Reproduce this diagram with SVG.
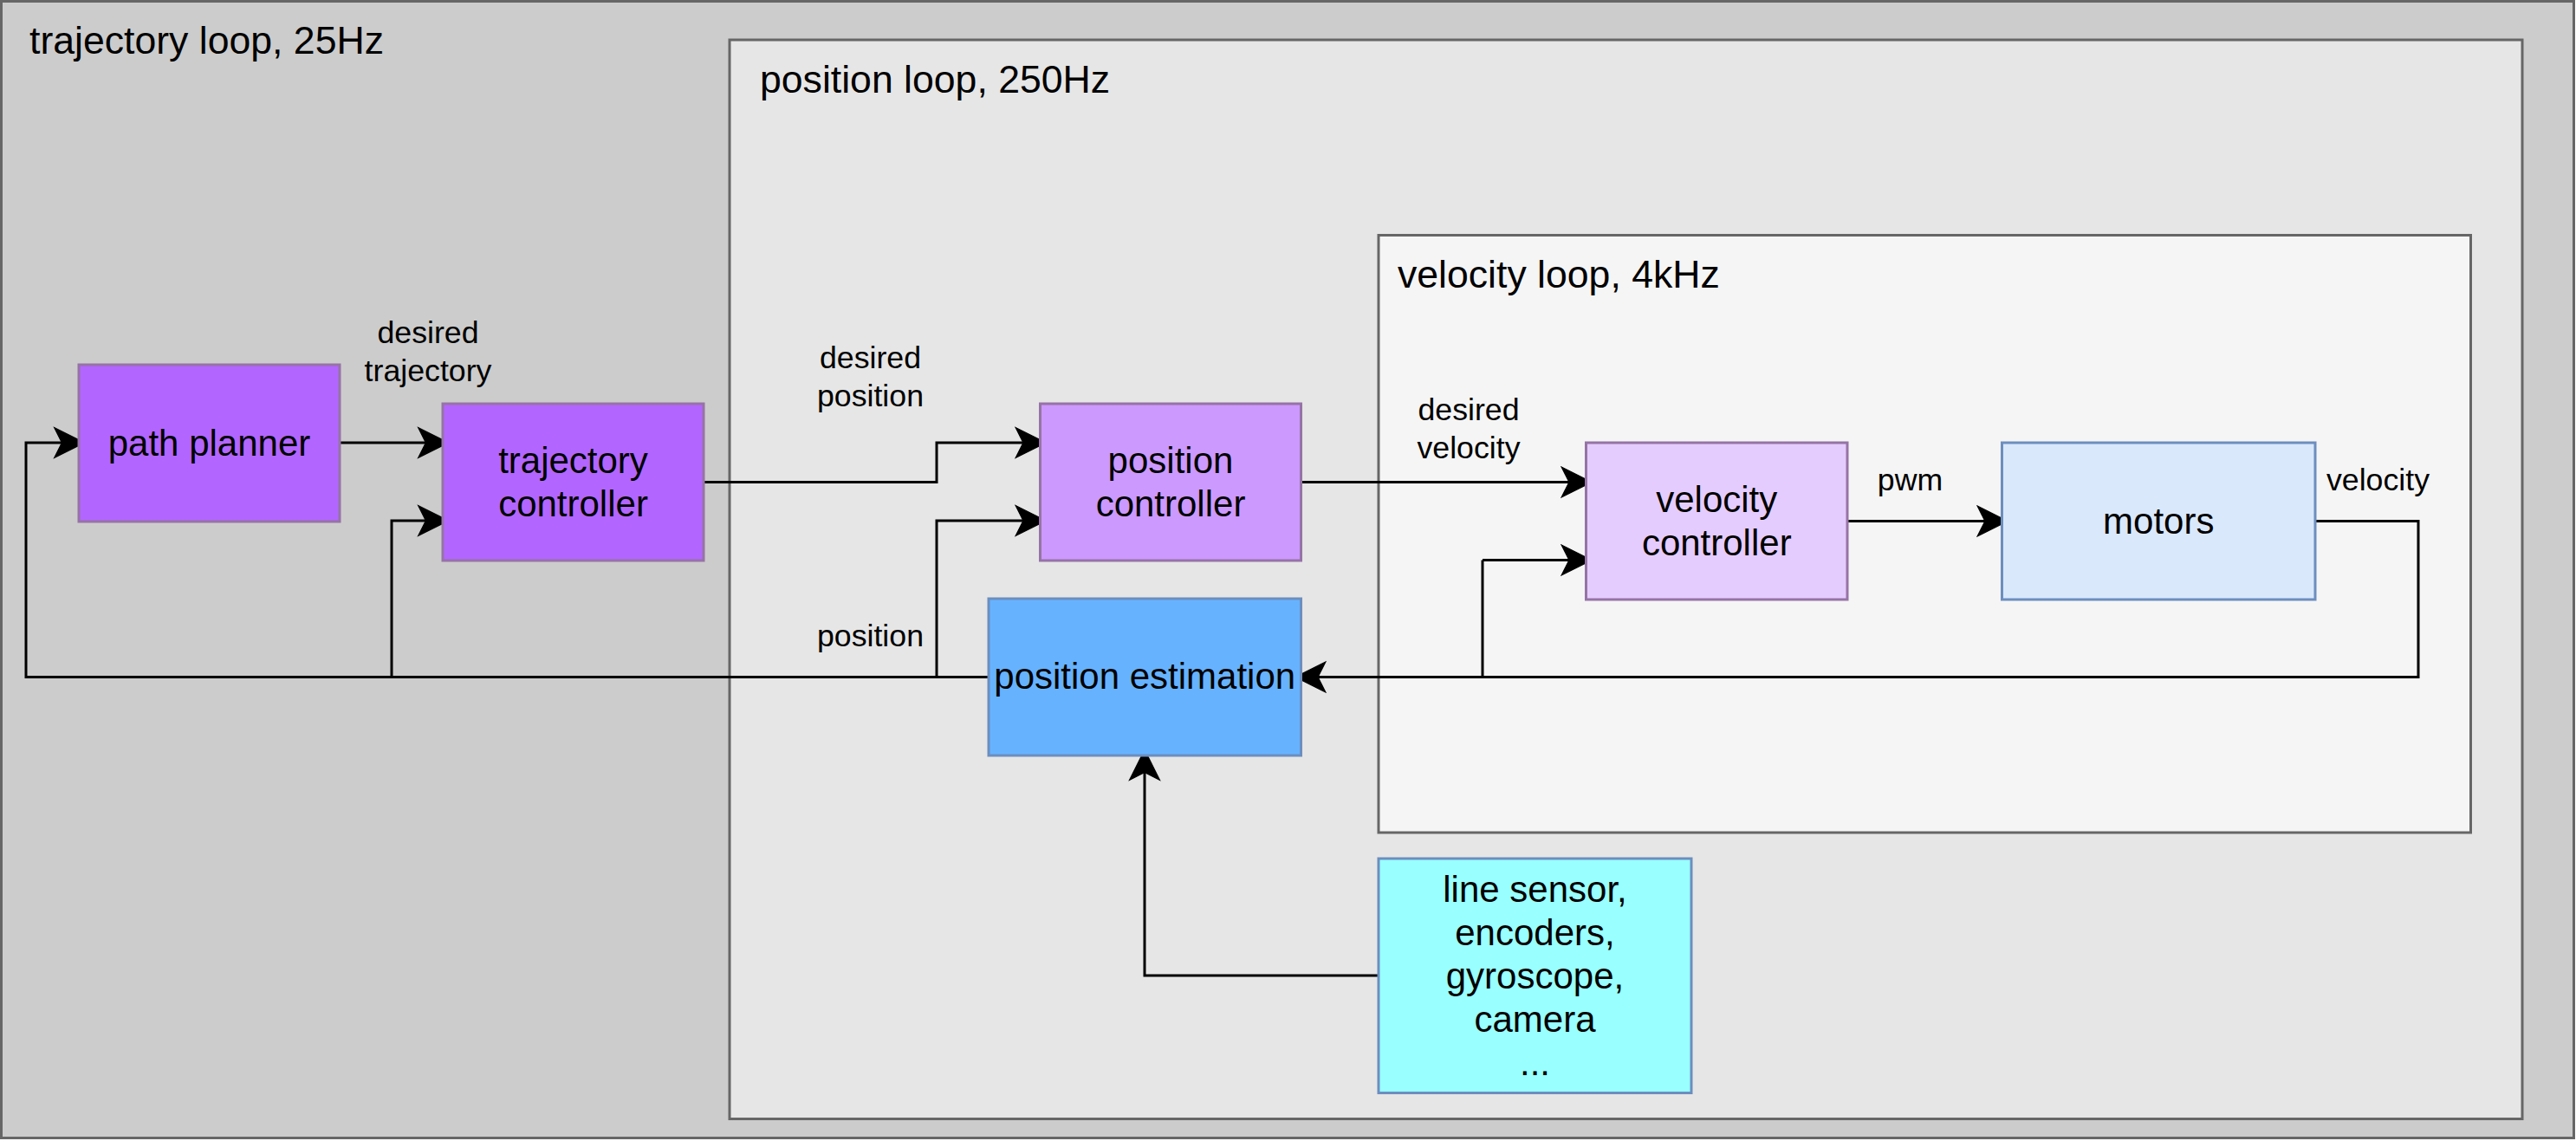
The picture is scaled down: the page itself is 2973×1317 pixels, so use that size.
<svg xmlns="http://www.w3.org/2000/svg" width="2973" height="1317" viewBox="0 0 2973 1317">
<defs>
<style>
text{font-family:"Liberation Sans",Arial,Helvetica,sans-serif;fill:#000}
.title{font-size:44.6px}
.node{font-size:42px;text-anchor:middle}
.lbl{font-size:35.7px;text-anchor:middle}
.cont{stroke:#666666;stroke-width:3}
.purple{stroke:#9673A6;stroke-width:3}
.blue{stroke:#6C8EBF;stroke-width:3}
.edge{fill:none;stroke:#000;stroke-width:3;marker-end:url(#arrow)}
.line{fill:none;stroke:#000;stroke-width:3}
</style>
<marker id="arrow" markerUnits="userSpaceOnUse" markerWidth="40" markerHeight="40" viewBox="-8 -14 30 28" refX="0" refY="0" orient="auto" overflow="visible">
<path d="M19.5,0 L-6.5,-13 L0,0 L-6.5,13 Z" fill="#000" stroke="#000" stroke-width="1"/>
</marker>
</defs>

<g id="trajectory-loop">
<rect class="cont" x="1.5" y="1.5" width="2969" height="1312" fill="#CCCCCC"/>
<text class="title" x="34" y="62">trajectory loop, 25Hz</text>
</g>
<g id="position-loop">
<rect class="cont" x="842" y="46" width="2069" height="1245.5" fill="#E6E6E6"/>
<text class="title" x="877" y="107">position loop, 250Hz</text>
</g>
<g id="velocity-loop">
<rect class="cont" x="1591" y="271.5" width="1260.5" height="689.5" fill="#F5F5F5"/>
<text class="title" x="1613" y="332">velocity loop, 4kHz</text>
</g>

<g id="connectors">
<path class="edge" d="M392,511 H491.5"/>
<path class="edge" d="M812,556.5 H1081 V511 H1181"/>
<path class="edge" d="M1141,781.5 H30 V511 H71.5"/>
<path class="edge" d="M452,781.5 V601 H491.5"/>
<path class="edge" d="M1081,781.5 V601 H1181"/>
<path class="edge" d="M1501.5,556.5 H1811"/>
<path class="edge" d="M2132,601.5 H2291"/>
<path class="edge" d="M2672,601.5 H2791 V781.5 H1521"/>
<path class="line" d="M1711,781.5 V646.5"/>
<path class="edge" d="M1711,646.5 H1811"/>
<path class="edge" d="M1591,1126 H1321 V891.5"/>
<text class="lbl" x="494" y="396">desired</text>
<text class="lbl" x="494" y="440">trajectory</text>
<text class="lbl" x="1004.5" y="425">desired</text>
<text class="lbl" x="1004.5" y="469">position</text>
<text class="lbl" x="1004.5" y="746">position</text>
<text class="lbl" x="1695" y="485">desired</text>
<text class="lbl" x="1695" y="529">velocity</text>
<text class="lbl" x="2204.5" y="566">pwm</text>
<text class="lbl" x="2744.5" y="566">velocity</text>
</g>

<g id="path-planner">
<rect class="purple" x="91" y="421" width="301" height="181" fill="#B266FF"/>
<text class="node" x="241.5" y="526">path planner</text>
</g>
<g id="trajectory-controller">
<rect class="purple" x="511" y="466" width="301" height="181" fill="#B266FF"/>
<text class="node" x="661.5" y="546">trajectory</text>
<text class="node" x="661.5" y="596">controller</text>
</g>
<g id="position-controller">
<rect class="purple" x="1200.5" y="466" width="301" height="181" fill="#CC99FF"/>
<text class="node" x="1351" y="546">position</text>
<text class="node" x="1351" y="596">controller</text>
</g>
<g id="position-estimation">
<rect class="blue" x="1141" y="691" width="360.5" height="181" fill="#66B2FF"/>
<text class="node" x="1321.25" y="795">position estimation</text>
</g>
<g id="velocity-controller">
<rect class="purple" x="1830.5" y="511" width="301.5" height="181" fill="#E5CCFF"/>
<text class="node" x="1981.25" y="591">velocity</text>
<text class="node" x="1981.25" y="641">controller</text>
</g>
<g id="motors">
<rect class="blue" x="2310.5" y="511" width="361.5" height="181" fill="#DAE8FC"/>
<text class="node" x="2491.25" y="616">motors</text>
</g>
<g id="sensors">
<rect class="blue" x="1591" y="991" width="361" height="270.5" fill="#99FFFF"/>
<text class="node" x="1771.5" y="1041">line sensor,</text>
<text class="node" x="1771.5" y="1091">encoders,</text>
<text class="node" x="1771.5" y="1141">gyroscope,</text>
<text class="node" x="1771.5" y="1191">camera</text>
<text class="node" x="1771.5" y="1241">...</text>
</g>
</svg>
